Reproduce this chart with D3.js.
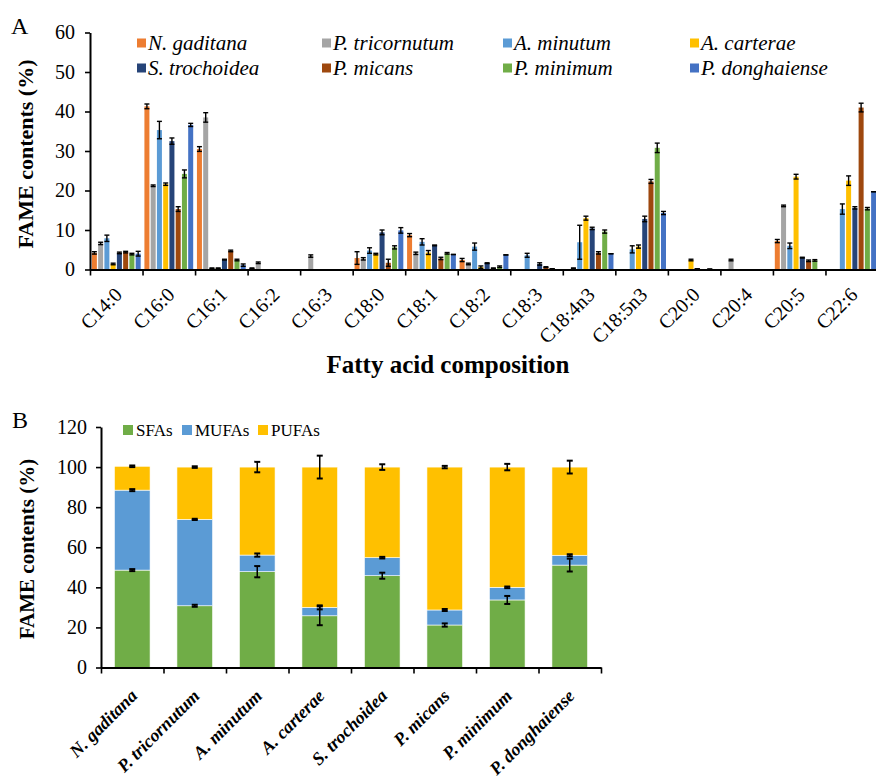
<!DOCTYPE html>
<html>
<head>
<meta charset="utf-8">
<script src="https://cdn.jsdelivr.net/npm/d3@7"></script>
<style>
  body { margin: 0; background: #fff; }
  svg, svg text { font-family: 'Times New Roman', Times, 'Liberation Serif', 'Nimbus Roman', 'DejaVu Serif', serif; }
  .axis path, .axis line { stroke: #000; }
  .axis path { stroke-width: 2; }
  .axis line { stroke-width: 1.6; }
  .axis text { font-size: 20px; fill: #000; font-family: 'Times New Roman', Times, 'Liberation Serif', serif; }
</style>
</head>
<body>
<svg id="chart" width="876" height="780"></svg>
<script>
// panel A data
const acids = ['C14:0', 'C16:0', 'C16:1', 'C16:2', 'C16:3', 'C18:0', 'C18:1', 'C18:2', 'C18:3', 'C18:4n3', 'C18:5n3', 'C20:0', 'C20:4', 'C20:5', 'C22:6'];
const species = ['N. gaditana', 'P. tricornutum', 'A. minutum', 'A. carterae', 'S. trochoidea', 'P. micans', 'P. minimum', 'P. donghaiense'];
const speciesColors = ['#ED7D31', '#A5A5A5', '#5B9BD5', '#FFC000', '#264478', '#9E480E', '#70AD47', '#4472C4'];

const nGaditana     = [4.2, 41.3, 30.5, 0.3, 0, 2.9, 8.7, 2.4, 0, 0, 0, 0, 0, 7.2, 0];
const pTricornutum  = [6.6, 21.2, 38.5, 1.7, 3.4, 2.7, 4.1, 1.4, 0, 0.3, 0, 0, 2.4, 16.1, 0];
const aMinutum      = [7.9, 35.3, 0.3, 0, 0, 4.8, 7.0, 5.8, 3.6, 6.9, 5.1, 0, 0, 6.0, 15.3];
const aCarterae     = [1.4, 21.6, 0.3, 0, 0, 3.9, 4.3, 0.6, 0, 13.0, 5.8, 2.4, 0, 23.5, 22.5];
const sTrochoidea   = [4.2, 32.5, 2.5, 0, 0, 9.4, 6.1, 1.6, 1.4, 10.4, 12.8, 0.2, 0, 3.0, 15.6];
const pMicans       = [4.4, 15.3, 4.7, 0, 0, 1.7, 2.8, 0.3, 0.6, 4.2, 22.3, 0, 0, 2.2, 41.0];
const pMinimum      = [3.9, 24.2, 2.4, 0, 0, 5.6, 4.1, 0.7, 0.2, 9.6, 30.8, 0.1, 0, 2.3, 15.4];
const pDonghaiense  = [4.0, 36.6, 1.1, 0, 0, 9.9, 3.8, 3.7, 0, 4.0, 14.3, 0, 0, 0, 19.7];

const nGaditanaErr    = [0.3, 0.6, 0.6, 0.1, 0, 1.6, 0.4, 0.4, 0, 0, 0, 0, 0, 0.4, 0];
const pTricornutumErr = [0.3, 0.2, 1.2, 0.2, 0.3, 0.3, 0.3, 0.2, 0, 0.1, 0, 0, 0.2, 0.2, 0];
const aMinutumErr     = [0.8, 2.2, 0.1, 0, 0, 0.7, 0.8, 0.9, 0.5, 4.3, 0.9, 0, 0, 0.7, 1.3];
const aCarteraeErr    = [0.2, 0.3, 0.1, 0, 0, 0.2, 0.5, 0.3, 0, 0.5, 0.4, 0.2, 0, 0.6, 1.2];
const sTrochoideaErr  = [0.2, 0.8, 0.1, 0, 0, 0.6, 0.1, 0.1, 0.3, 0.3, 0.7, 0, 0, 0.1, 0.3];
const pMicansErr      = [0.2, 0.6, 0.2, 0, 0, 0.9, 0.3, 0.1, 0.1, 0.3, 0.5, 0, 0, 0.2, 1.1];
const pMinimumErr     = [0.2, 1.0, 0.2, 0, 0, 0.4, 0.2, 0.2, 0, 0.4, 1.2, 0, 0, 0.2, 0.3];
const pDonghaienseErr = [0.6, 0.4, 0.3, 0, 0, 0.7, 0, 0, 0, 0, 0.4, 0, 0, 0, 0];

const seriesA = [nGaditana, pTricornutum, aMinutum, aCarterae, sTrochoidea, pMicans, pMinimum, pDonghaiense];
const errorsA = [nGaditanaErr, pTricornutumErr, aMinutumErr, aCarteraeErr, sTrochoideaErr, pMicansErr, pMinimumErr, pDonghaienseErr];
const ticksA = [0, 10, 20, 30, 40, 50, 60];

// panel B data
const groups = ['SFAs', 'MUFAs', 'PUFAs'];
const groupColors = ['#70AD47', '#5B9BD5', '#FFC000'];
const sfa  = [48.6, 30.8, 47.8, 25.8, 45.8, 21.2, 33.7, 51.1];
const mufa = [39.9, 43.1, 8.3, 4.2, 9.0, 7.5, 6.3, 4.9];
const pufa = [11.9, 26.1, 43.9, 70.0, 45.2, 71.3, 60.0, 44.0];
const sfaErr  = [0.5, 0.5, 2.8, 4.7, 1.5, 0.8, 2.0, 3.2];
const mufaErr = [0.5, 0.3, 0.8, 1.0, 0.4, 0.5, 0.4, 0.5];
const pufaErr = [0.4, 0.4, 2.6, 5.7, 1.4, 0.6, 1.6, 3.2];
const ticksB = [0, 20, 40, 60, 80, 100, 120];

const svg = d3.select('#chart');
svg.append('rect').attr('width', 876).attr('height', 780).attr('fill', '#fff');

// ---------- Panel A ----------
const x = d3.scaleBand().domain(acids).range([90, 878]);
const xs = d3.scaleBand().domain(species).range([0, x.bandwidth()]).paddingInner(0.2).paddingOuter(0.3);
const y = d3.scaleLinear().domain([0, 60]).range([269.5, 32.5]);
const xIdx = d3.scaleLinear().domain([0, acids.length]).range(x.range());

const gA = svg.append('g');

const barsA = species.flatMap((s, si) => acids.map((a, ai) => ({ s, si, a, v: seriesA[si][ai], e: errorsA[si][ai] })));

gA.append('g').selectAll('rect').data(barsA.filter(d => d.v > 0)).join('rect')
    .attr('x', d => x(d.a) + xs(d.s))
    .attr('y', d => y(d.v))
    .attr('width', xs.bandwidth())
    .attr('height', d => y(0) - y(d.v))
    .attr('fill', d => speciesColors[d.si]);

const errA = gA.append('g').attr('stroke', '#000').attr('stroke-width', 1.4)
    .selectAll('g').data(barsA.filter(d => d.v > 0)).join('g')
    .attr('transform', d => `translate(${x(d.a) + xs(d.s) + xs.bandwidth() / 2},0)`);
errA.append('line').attr('y1', d => y(d.v + d.e)).attr('y2', d => y(Math.max(0, d.v - d.e)));
errA.append('line').attr('x1', -2.5).attr('x2', 2.5).attr('y1', d => y(d.v + d.e)).attr('y2', d => y(d.v + d.e));
errA.append('line').attr('x1', -2.5).attr('x2', 2.5).attr('y1', d => y(Math.max(0, d.v - d.e))).attr('y2', d => y(Math.max(0, d.v - d.e)));

gA.append('g').attr('class', 'axis').attr('transform', 'translate(90,0)')
    .call(d3.axisLeft(y).tickValues(ticksA).tickSize(5).tickSizeOuter(0).tickPadding(10));
gA.append('g').attr('class', 'axis').attr('transform', `translate(0,${y(0)})`)
    .call(d3.axisBottom(xIdx).ticks(acids.length).tickFormat('').tickSize(6).tickSizeOuter(0));

gA.append('g').selectAll('text').data(acids).join('text')
    .attr('transform', d => `translate(${x(d) + x.bandwidth() / 2 + 7},296) rotate(-45)`)
    .attr('text-anchor', 'end')
    .style('font-size', '20px')
    .text(d => d);

gA.append('text').attr('transform', 'translate(33,154) rotate(-90)')
    .attr('text-anchor', 'middle').style('font-size', '22px').style('font-weight', 'bold')
    .text('FAME contents (%)');
gA.append('text').attr('x', 448).attr('y', 373)
    .attr('text-anchor', 'middle').style('font-size', '25px').style('font-weight', 'bold')
    .text('Fatty acid composition');
gA.append('text').attr('x', 11).attr('y', 34).style('font-size', '24px').text('A');

const legA = gA.append('g').selectAll('g').data(species).join('g')
    .attr('transform', (d, i) => `translate(${[137, 322, 503, 690][i % 4]},${i < 4 ? 43 : 68})`);
legA.append('rect').attr('x', 0).attr('y', -4.5).attr('width', 9).attr('height', 9)
    .attr('fill', (d, i) => speciesColors[i]);
legA.append('text').attr('x', 11).attr('y', 7).style('font-size', '21px').style('font-style', 'italic')
    .text(d => d);

// ---------- Panel B ----------
const xb = d3.scaleBand().domain(species).range([101, 601]).paddingInner(0.43).paddingOuter(0.215);
const yb = d3.scaleLinear().domain([0, 120]).range([667.5, 427]);
const xbIdx = d3.scaleLinear().domain([0, species.length]).range(xb.range());

const tableB = species.map((s, i) => ({ name: s, SFAs: sfa[i], MUFAs: mufa[i], PUFAs: pufa[i] }));
const errB = { SFAs: sfaErr, MUFAs: mufaErr, PUFAs: pufaErr };
const stacked = d3.stack().keys(groups)(tableB);

const gB = svg.append('g');
gB.append('g').selectAll('g').data(stacked).join('g')
    .attr('fill', (d, i) => groupColors[i])
    .selectAll('rect').data(d => d).join('rect')
    .attr('x', d => xb(d.data.name))
    .attr('y', d => yb(d[1]))
    .attr('width', xb.bandwidth())
    .attr('height', d => yb(d[0]) - yb(d[1]))
    .attr('stroke', '#fff').attr('stroke-width', 0.6);

const errPts = stacked.flatMap(layer => layer.map((d, i) => ({ x: xb(d.data.name) + xb.bandwidth() / 2, v: d[1], e: errB[layer.key][i] })));
const eb = gB.append('g').attr('stroke', '#000').attr('stroke-width', 1.5)
    .selectAll('g').data(errPts).join('g').attr('transform', d => `translate(${d.x},0)`);
eb.append('line').attr('y1', d => yb(d.v + d.e)).attr('y2', d => yb(d.v - d.e));
eb.append('line').attr('x1', -3).attr('x2', 3).attr('y1', d => yb(d.v + d.e)).attr('y2', d => yb(d.v + d.e)).attr('stroke-width', 2);
eb.append('line').attr('x1', -3).attr('x2', 3).attr('y1', d => yb(d.v - d.e)).attr('y2', d => yb(d.v - d.e)).attr('stroke-width', 2);

gB.append('g').attr('class', 'axis').attr('transform', 'translate(101,0)')
    .call(d3.axisLeft(yb).tickValues(ticksB).tickSize(5).tickSizeOuter(0).tickPadding(9));
gB.append('g').attr('class', 'axis').attr('transform', `translate(0,${yb(0)})`)
    .call(d3.axisBottom(xbIdx).ticks(species.length).tickFormat('').tickSize(6).tickSizeOuter(0));

gB.append('g').selectAll('text').data(species).join('text')
    .attr('transform', d => `translate(${xb(d) + xb.bandwidth() / 2 + 6},697) rotate(-45)`)
    .attr('text-anchor', 'end')
    .style('font-size', '18px').style('font-weight', 'bold').style('font-style', 'italic')
    .text(d => d);

gB.append('text').attr('transform', 'translate(34,549) rotate(-90)')
    .attr('text-anchor', 'middle').style('font-size', '21px').style('font-weight', 'bold')
    .text('FAME contents (%)');
gB.append('text').attr('x', 12).attr('y', 428).style('font-size', '24px').text('B');

const legB = gB.append('g').selectAll('g').data(groups).join('g')
    .attr('transform', (d, i) => `translate(${[123, 182, 258][i]},430)`);
legB.append('rect').attr('y', -5).attr('width', 10).attr('height', 10).attr('fill', (d, i) => groupColors[i]);
legB.append('text').attr('x', 13).attr('y', 6).style('font-size', '17px').text(d => d);
</script>
</body>
</html>
